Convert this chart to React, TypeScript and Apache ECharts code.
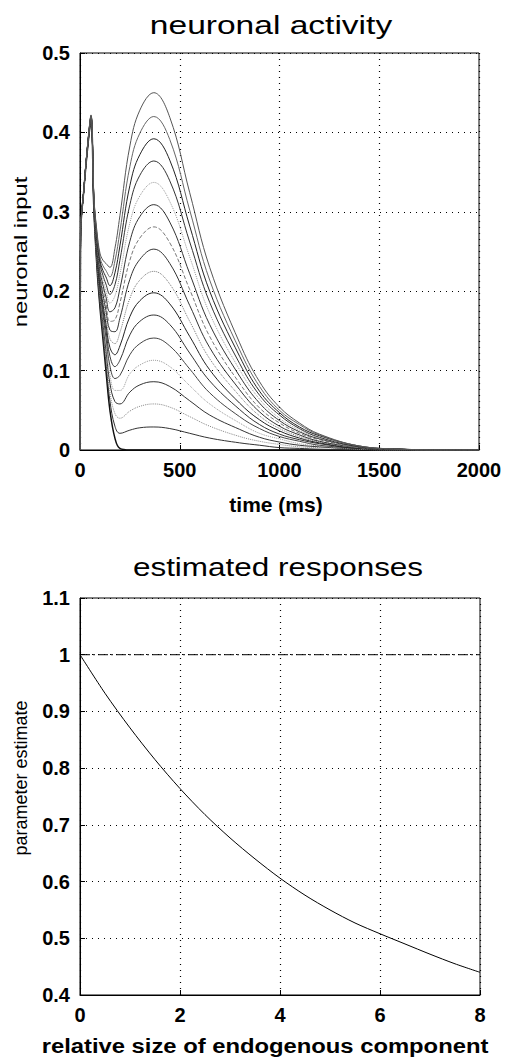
import React, { useEffect, useRef } from "react";
import * as echarts from "echarts";

// ---------- top chart: neuronal activity ----------
const timeMs = [0, 3, 20, 40, 55, 70, 85, 100, 115, 130, 150, 175, 200, 250, 300, 370, 450, 550, 650, 800, 900, 1000, 1100, 1200, 1400, 1600, 1800, 2000];

const curve0 = [0, 0.27, 0.33, 0.385, 0.415, 0.3, 0.23, 0.18, 0.14, 0.1, 0.05, 0.015, 0.002, 0, 0, 0, 0, 0, 0, 0, 0, 0, 0, 0, 0, 0, 0, 0];
const curve1 = [0, 0.27, 0.33, 0.385, 0.415, 0.301, 0.233, 0.184, 0.146, 0.109, 0.062, 0.03, 0.021, 0.025, 0.028, 0.029, 0.027, 0.021, 0.015, 0.009, 0.006, 0.003, 0.002, 0.001, 0, 0, 0, 0];
const curve2 = [0, 0.27, 0.33, 0.386, 0.416, 0.302, 0.236, 0.189, 0.153, 0.117, 0.073, 0.046, 0.04, 0.049, 0.055, 0.058, 0.054, 0.042, 0.03, 0.017, 0.011, 0.007, 0.004, 0.003, 0.001, 0, 0, 0];
const curve3 = [0, 0.27, 0.33, 0.386, 0.416, 0.303, 0.239, 0.193, 0.159, 0.126, 0.084, 0.061, 0.058, 0.073, 0.082, 0.086, 0.08, 0.062, 0.044, 0.026, 0.016, 0.01, 0.006, 0.004, 0.001, 0, 0, 0];
const curve4 = [0, 0.27, 0.33, 0.386, 0.417, 0.305, 0.241, 0.197, 0.165, 0.134, 0.095, 0.075, 0.075, 0.096, 0.107, 0.113, 0.105, 0.081, 0.058, 0.034, 0.021, 0.014, 0.008, 0.005, 0.001, 0, 0, 0];
const curve5 = [0, 0.27, 0.33, 0.386, 0.417, 0.306, 0.244, 0.201, 0.171, 0.142, 0.106, 0.09, 0.094, 0.12, 0.134, 0.141, 0.131, 0.102, 0.072, 0.042, 0.027, 0.017, 0.011, 0.006, 0.002, 0, 0, 0];
const curve6 = [0, 0.27, 0.33, 0.387, 0.418, 0.307, 0.247, 0.206, 0.177, 0.151, 0.118, 0.105, 0.113, 0.145, 0.162, 0.17, 0.158, 0.122, 0.087, 0.051, 0.032, 0.02, 0.013, 0.008, 0.002, 0.001, 0, 0];
const curve7 = [0, 0.27, 0.33, 0.387, 0.418, 0.308, 0.25, 0.21, 0.184, 0.159, 0.129, 0.12, 0.131, 0.168, 0.188, 0.198, 0.184, 0.143, 0.101, 0.059, 0.038, 0.024, 0.015, 0.009, 0.002, 0.001, 0, 0];
const curve8 = [0, 0.27, 0.33, 0.387, 0.418, 0.309, 0.253, 0.214, 0.19, 0.168, 0.14, 0.134, 0.148, 0.191, 0.214, 0.225, 0.209, 0.162, 0.115, 0.068, 0.043, 0.027, 0.017, 0.01, 0.003, 0.001, 0, 0];
const curve9 = [0, 0.27, 0.33, 0.388, 0.419, 0.31, 0.255, 0.218, 0.196, 0.176, 0.151, 0.149, 0.166, 0.215, 0.24, 0.253, 0.235, 0.182, 0.129, 0.076, 0.048, 0.03, 0.019, 0.011, 0.003, 0.001, 0, 0];
const curve10 = [0, 0.27, 0.33, 0.388, 0.419, 0.311, 0.258, 0.222, 0.202, 0.184, 0.162, 0.164, 0.185, 0.239, 0.267, 0.281, 0.261, 0.202, 0.143, 0.084, 0.053, 0.034, 0.021, 0.013, 0.003, 0.001, 0, 0];
const curve11 = [0, 0.27, 0.33, 0.388, 0.42, 0.312, 0.261, 0.226, 0.208, 0.193, 0.174, 0.179, 0.203, 0.263, 0.294, 0.309, 0.287, 0.222, 0.158, 0.093, 0.059, 0.037, 0.023, 0.014, 0.004, 0.001, 0, 0];
const curve12 = [0, 0.27, 0.33, 0.388, 0.42, 0.313, 0.264, 0.231, 0.214, 0.201, 0.185, 0.194, 0.221, 0.286, 0.32, 0.337, 0.313, 0.243, 0.172, 0.101, 0.064, 0.04, 0.025, 0.015, 0.004, 0.001, 0, 0];
const curve13 = [0, 0.27, 0.33, 0.389, 0.42, 0.315, 0.266, 0.235, 0.22, 0.209, 0.196, 0.208, 0.239, 0.309, 0.346, 0.364, 0.339, 0.262, 0.186, 0.109, 0.069, 0.044, 0.027, 0.016, 0.004, 0.001, 0, 0];
const curve14 = [0, 0.27, 0.33, 0.389, 0.421, 0.316, 0.269, 0.239, 0.226, 0.218, 0.207, 0.223, 0.257, 0.333, 0.372, 0.392, 0.365, 0.282, 0.2, 0.118, 0.074, 0.047, 0.029, 0.018, 0.005, 0.001, 0, 0];
const curve15 = [0, 0.27, 0.33, 0.389, 0.421, 0.317, 0.272, 0.243, 0.232, 0.226, 0.218, 0.238, 0.275, 0.357, 0.399, 0.42, 0.391, 0.302, 0.214, 0.126, 0.08, 0.05, 0.032, 0.019, 0.005, 0.001, 0, 0];
const curve16 = [0, 0.27, 0.33, 0.39, 0.422, 0.318, 0.275, 0.248, 0.239, 0.235, 0.23, 0.254, 0.295, 0.383, 0.428, 0.45, 0.419, 0.324, 0.23, 0.135, 0.086, 0.054, 0.034, 0.02, 0.005, 0.001, 0, 0];

const curves = [curve0, curve1, curve2, curve3, curve4, curve5, curve6, curve7, curve8, curve9, curve10, curve11, curve12, curve13, curve14, curve15, curve16];

const timeTicks = [0, 500, 1000, 1500, 2000];
const inputTicks = [0, 0.1, 0.2, 0.3, 0.4, 0.5];

// ---------- bottom chart: estimated responses ----------
const relSize = [0, 0.5, 1, 1.5, 2, 2.5, 3, 3.5, 4, 4.5, 5, 5.5, 6, 6.5, 7, 7.5, 8];
const estimate = [1, 0.932, 0.871, 0.815, 0.764, 0.718, 0.677, 0.64, 0.606, 0.576, 0.55, 0.527, 0.508, 0.49, 0.472, 0.455, 0.44];
const refX = [0, 8];
const refY = [1, 1];
const sizeTicks = [0, 2, 4, 6, 8];
const estTicks = [0.4, 0.5, 0.6, 0.7, 0.8, 0.9, 1, 1.1];

// styles (not data)
const curveColors = ["#111", "#333", "#888", "#333", "#999", "#444", "#333", "#222", "#777", "#333", "#777", "#333", "#999", "#333", "#222", "#666", "#555"];
const curveTypes: any[] = ["solid", "solid", "dotted", "solid", "dotted", "solid", "solid", "solid", "dotted", "solid", "dashed", "solid", "dotted", "solid", "solid", "solid", "solid"];

const FONT = "Liberation Sans";

function axisCommon(min: number, max: number, interval: number, gridIndex: number) {
  return {
    gridIndex,
    type: "value",
    min,
    max,
    interval,
    axisLine: { show: true, lineStyle: { color: "#000", width: 1 } },
    axisTick: { show: true, inside: true, length: 5, lineStyle: { color: "#000" } },
    splitLine: { show: true, lineStyle: { color: "#000", type: [1, 5], width: 1.2 } },
    axisLabel: {
      color: "#000",
      fontSize: 20,
      fontWeight: "bold",
      fontFamily: FONT,
      margin: 10,
      formatter: (v: number) => String(Math.round(v * 1000) / 1000),
    },
  };
}

function txt(text: string, x: number, y: number, fontSize: number, scaleX: number, bold: boolean, rotation = 0) {
  return {
    type: "text",
    x,
    y,
    rotation,
    scaleX,
    style: {
      text,
      fontSize,
      fontFamily: FONT,
      fontWeight: bold ? "bold" : "normal",
      fill: "#000",
      textAlign: "center",
      textVerticalAlign: "middle",
      align: "center",
      verticalAlign: "middle",
    },
  };
}

export default function App() {
  const ref = useRef<HTMLDivElement>(null);
  useEffect(() => {
    if (!ref.current) return;
    const chart = echarts.init(ref.current, null, { renderer: "svg" });
    const topSeries = curves.map((c, i) => ({
      type: "line",
      xAxisIndex: 0,
      yAxisIndex: 0,
      data: timeMs.map((t, j) => [t, c[j]]),
      showSymbol: false,
      smooth: 0.4,
      lineStyle: { color: curveColors[i], width: i === 0 ? 1.5 : 1, type: curveTypes[i] },
      z: 3,
    }));
    const option: any = {
      animation: false,
      backgroundColor: "#fff",
      grid: [
        { left: 80, top: 53, width: 399, height: 397, show: true, borderColor: "#000", borderWidth: 1, backgroundColor: "transparent" },
        { left: 80, top: 598, width: 400, height: 397, show: true, borderColor: "#000", borderWidth: 1, backgroundColor: "transparent" },
      ],
      xAxis: [
        axisCommon(timeTicks[0], timeTicks[timeTicks.length - 1], timeTicks[1] - timeTicks[0], 0),
        axisCommon(sizeTicks[0], sizeTicks[sizeTicks.length - 1], sizeTicks[1] - sizeTicks[0], 1),
      ],
      yAxis: [
        axisCommon(inputTicks[0], inputTicks[inputTicks.length - 1], 0.1, 0),
        axisCommon(estTicks[0], estTicks[estTicks.length - 1], 0.1, 1),
      ],
      series: [
        ...topSeries,
        {
          type: "line",
          xAxisIndex: 1,
          yAxisIndex: 1,
          data: relSize.map((x, j) => [x, estimate[j]]),
          showSymbol: false,
          smooth: 0.3,
          lineStyle: { color: "#000", width: 1 },
        },
        {
          type: "line",
          xAxisIndex: 1,
          yAxisIndex: 1,
          data: refX.map((x, j) => [x, refY[j]]),
          showSymbol: false,
          lineStyle: { color: "#000", width: 1, type: [10, 3, 2, 3] },
        },
      ],
      graphic: [
        txt("neuronal activity", 271, 25, 26, 1.29, false),
        txt("estimated responses", 278, 567, 26, 1.21, false),
        txt("neuronal input", 21, 252, 19, 1.25, false, Math.PI / 2),
        txt("parameter estimate", 21, 778, 18, 1.0, false, Math.PI / 2),
        txt("time (ms)", 276, 505, 20, 1.05, true),
        txt("relative size of endogenous component", 265, 1046, 20, 1.19, true),
      ],
    };
    chart.setOption(option);
    return () => chart.dispose();
  }, []);
  return <div ref={ref} style={{ position: "absolute", left: 0, top: 0, width: 505, height: 1062 }} />;
}
